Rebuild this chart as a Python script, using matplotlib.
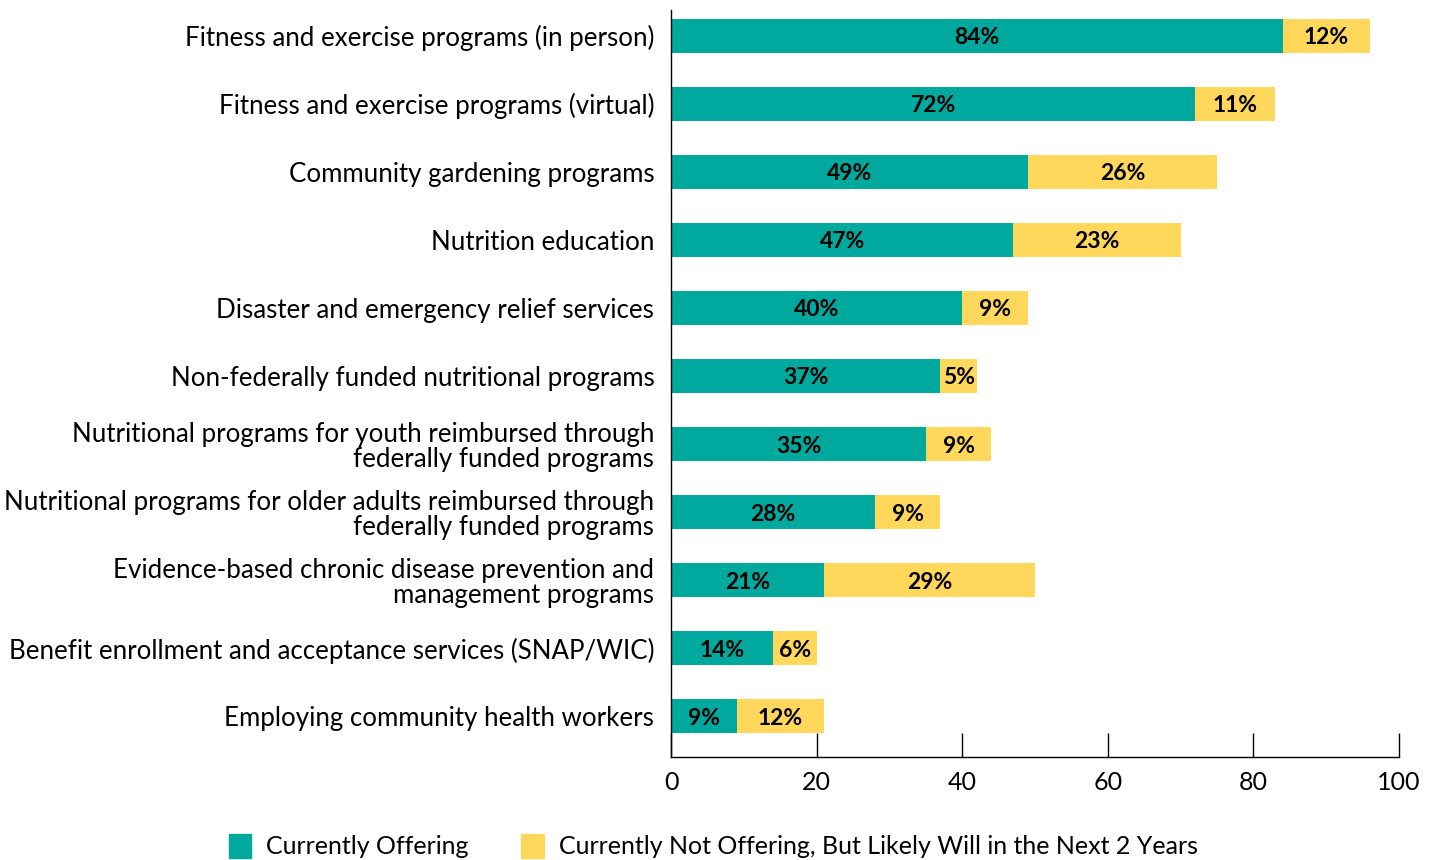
import matplotlib.pyplot as plt
from matplotlib.patches import Patch

# data
programs = [
    "Fitness and exercise programs (in person)",
    "Fitness and exercise programs (virtual)",
    "Community gardening programs",
    "Nutrition education",
    "Disaster and emergency relief services",
    "Non-federally funded nutritional programs",
    "Nutritional programs for youth reimbursed through\nfederally funded programs",
    "Nutritional programs for older adults reimbursed through\nfederally funded programs",
    "Evidence-based chronic disease prevention and\nmanagement programs",
    "Benefit enrollment and acceptance services (SNAP/WIC)",
    "Employing community health workers",
]
offering = [84, 72, 49, 47, 40, 37, 35, 28, 21, 14, 9]
likely = [12, 11, 26, 23, 9, 5, 9, 9, 29, 6, 12]
series_names = ["Currently Offering", "Currently Not Offering, But Likely Will in the Next 2 Years"]

teal = "#00A99D"
yellow = "#FFD75A"

plt.rcParams['font.family'] = ['Lato', 'DejaVu Sans']

fig = plt.figure(figsize=(14.4, 8.6), dpi=100)
ax = fig.add_axes([0.466, 0.1198, 0.5056, 0.8686])

y = list(range(len(programs)))
b1 = ax.barh(y, offering, height=0.5, color=teal)
b2 = ax.barh(y, likely, left=offering, height=0.5, color=yellow)

for i in y:
    ax.text(offering[i] / 2, i, f"{offering[i]}%", ha='center', va='center_baseline',
            fontsize=16.5, fontweight='bold', color='black')
    ax.text(offering[i] + likely[i] / 2, i, f"{likely[i]}%", ha='center', va='center_baseline',
            fontsize=16.5, fontweight='bold', color='black')

ax.set_xlim(0, 100)
ax.set_ylim(10.6, -0.38)
ax.set_yticks(y)
ax.set_yticklabels(programs, fontsize=18.6, linespacing=1.0)
ax.tick_params(axis='y', length=0, pad=12)
ax.set_xticks([0, 20, 40, 60, 80, 100])
ax.tick_params(axis='x', direction='in', length=17, width=1, labelsize=18, pad=10)
for lbl in ax.get_yticklabels():
    lbl.set_horizontalalignment('right')

for s in ['top', 'right']:
    ax.spines[s].set_visible(False)
ax.spines['left'].set_linewidth(1)
ax.spines['bottom'].set_linewidth(1)

handles = [Patch(color=teal), Patch(color=yellow)]
fig.legend(handles, series_names, loc='center left', bbox_to_anchor=(0.152, 0.016),
           ncol=2, frameon=False, fontsize=18, handlelength=0.9, handleheight=1.1,
           handletextpad=0.6, columnspacing=2.1, borderaxespad=0)

fig.savefig("out.png", dpi=100)
